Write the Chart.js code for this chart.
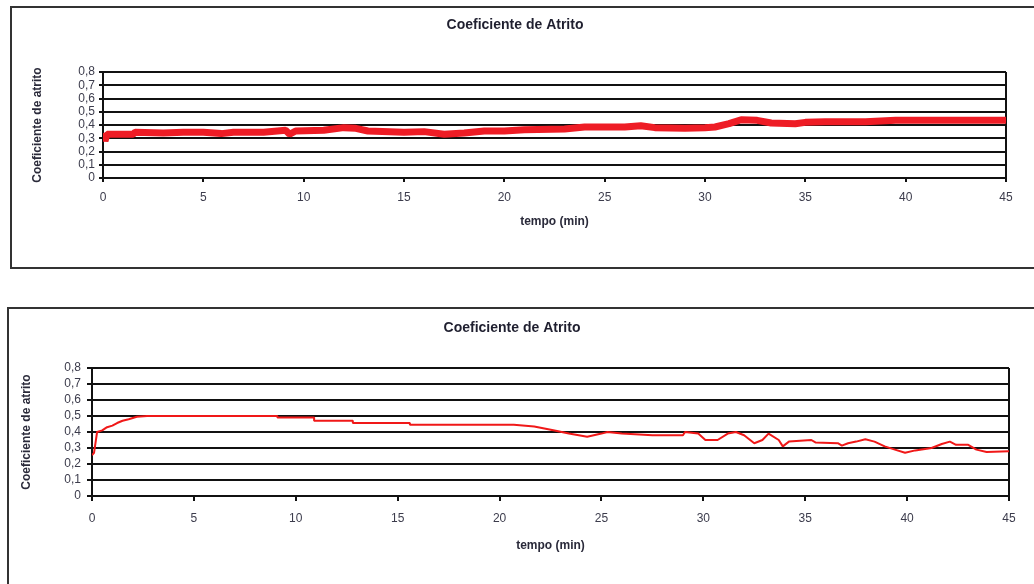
<!DOCTYPE html>
<html>
<head>
<meta charset="utf-8">
<script src="https://cdn.jsdelivr.net/npm/chart.js@4"></script>
<style>
  html, body { margin: 0; padding: 0; background: #fff; overflow: hidden; }
  body { width: 1034px; height: 584px; position: relative; }
  .box { position: absolute; border: 2px solid #333; box-sizing: border-box; }
  canvas { position: absolute; }
</style>
</head>
<body>
<div class="box" style="left:10px; top:6px; width:1040px; height:263px;"></div>
<div class="box" style="left:7px; top:307px; width:1040px; height:300px;"></div>
<canvas id="c1" width="1034" height="262" style="left:10px; top:6px;"></canvas>
<canvas id="c2" width="1034" height="277" style="left:7px; top:307px;"></canvas>
<script>
// ---- data ----
const chartTitle = 'Coeficiente de Atrito';
const xAxisTitle = 'tempo (min)';
const yAxisTitle = 'Coeficiente de atrito';
const xTickLabels = ['0', '5', '10', '15', '20', '25', '30', '35', '40', '45'];
const yTickLabels = ['0', '0,1', '0,2', '0,3', '0,4', '0,5', '0,6', '0,7', '0,8'];

const time1 = [0, 0.1, 0.2, 1.5, 1.6, 3, 4, 5, 5.9, 6.5, 8, 9.1, 9.3, 9.6, 11, 12, 12.6, 13.2, 15, 16, 17, 18, 19, 20, 21, 23, 24, 26, 26.8, 27.5, 29, 30, 30.5, 31.2, 31.8, 32.6, 33.3, 34.5, 35, 36, 38, 39.5, 45];
const cof1  = [0.34, 0.28, 0.33, 0.33, 0.345, 0.34, 0.345, 0.345, 0.335, 0.345, 0.345, 0.36, 0.33, 0.355, 0.36, 0.38, 0.375, 0.355, 0.345, 0.35, 0.33, 0.34, 0.355, 0.355, 0.365, 0.37, 0.385, 0.385, 0.395, 0.38, 0.375, 0.38, 0.385, 0.41, 0.44, 0.435, 0.415, 0.41, 0.42, 0.425, 0.425, 0.435, 0.435];

const time2 = [0, 0.1, 0.25, 0.5, 0.74, 1.0, 1.23, 1.5, 1.8, 2.2, 2.7, 9.1, 9.1, 10.9, 10.9, 12.8, 12.8, 15.6, 15.6, 20.7, 21.7, 22.7, 23.4, 24.3, 25.0, 25.3, 26.0, 27.5, 29.0, 29.1, 29.75, 30.1, 30.7, 31.2, 31.6, 32.0, 32.5, 32.9, 33.2, 33.7, 33.9, 34.2, 35.3, 35.5, 36.6, 36.8, 37.1, 37.5, 37.95, 38.4, 38.9, 39.4, 39.9, 40.4, 41.2, 41.7, 42.1, 42.4, 43.0, 43.4, 43.9, 45];
const cof2  = [0.255, 0.27, 0.40, 0.41, 0.43, 0.44, 0.456, 0.47, 0.48, 0.495, 0.5, 0.5, 0.49, 0.49, 0.47, 0.47, 0.456, 0.456, 0.445, 0.445, 0.435, 0.41, 0.39, 0.37, 0.39, 0.40, 0.39, 0.38, 0.38, 0.40, 0.39, 0.35, 0.35, 0.39, 0.40, 0.38, 0.33, 0.35, 0.39, 0.35, 0.31, 0.34, 0.35, 0.335, 0.33, 0.315, 0.33, 0.34, 0.355, 0.34, 0.31, 0.29, 0.27, 0.285, 0.30, 0.325, 0.34, 0.32, 0.32, 0.29, 0.275, 0.28];

// ---- chart builder ----
const FONT = "'Liberation Sans', Arial, sans-serif";
function build(id, times, vals, cfg) {
  const pts = times.map((t, i) => ({ x: t, y: vals[i] }));
  return new Chart(document.getElementById(id), {
    type: 'line',
    data: { datasets: [{ data: pts, borderColor: cfg.lineColor, borderWidth: cfg.lineWidth, pointRadius: 0, tension: 0, fill: false, borderJoinStyle: 'bevel' }] },
    options: {
      responsive: false, animation: false, devicePixelRatio: 1,
      layout: { padding: cfg.layoutPad },
      plugins: {
        legend: { display: false }, tooltip: { enabled: false },
        title: { display: true, text: chartTitle, color: '#1f1f2f',
                 font: { family: FONT, size: 14, weight: 'bold' }, padding: cfg.titlePad }
      },
      scales: {
        x: {
          type: 'linear', min: 0, max: 45,
          ticks: { stepSize: 5, color: '#3c3c4c', padding: cfg.xTickPad, maxRotation: 0, autoSkip: false,
                   font: { family: FONT, size: 12 },
                   callback: (v) => xTickLabels[Math.round(v / 5)] },
          grid: { color: (c) => (c.tick && c.tick.value === 45 ? '#111' : 'rgba(0,0,0,0)'),
                  tickColor: '#111', lineWidth: 2, tickLength: cfg.xTickLen, drawTicks: true },
          border: { display: false },
          title: { display: true, text: xAxisTitle, color: '#2a2a3a',
                   font: { family: FONT, size: 12, weight: 'bold' }, padding: { top: 0, bottom: cfg.xTitlePadB } },
          afterFit: (s) => { s.height = cfg.xHeight; s.paddingLeft = 0; s.paddingRight = 0; }
        },
        y: {
          min: 0, max: 0.8,
          ticks: { stepSize: 0.1, color: '#3c3c4c', padding: cfg.yTickPad, autoSkip: false,
                   font: { family: FONT, size: cfg.yTickSize },
                   callback: (v) => yTickLabels[Math.round(v * 10)] },
          grid: { color: '#111', lineWidth: 2, tickLength: cfg.yTickLen },
          border: { display: true, color: '#111', width: 2 },
          title: { display: true, text: yAxisTitle, color: '#2a2a3a',
                   font: { family: FONT, size: 12, weight: 'bold' }, padding: { top: cfg.yTitlePadT, bottom: 0 } },
          afterFit: (s) => { s.width = cfg.yWidth; s.paddingTop = 0; s.paddingBottom = 0; }
        }
      }
    }
  });
}

build('c1', time1, cof1, {
  lineColor: '#ee1c25', lineWidth: 7,
  layoutPad: { left: 14, right: 38, top: 0, bottom: 38 },
  titlePad: { top: 10.6, bottom: 38.6 },
  xTickPad: 8.8, xTickLen: 4, xHeight: 52, xTitlePadB: 0.8,
  yTickPad: 4, yTickLen: 4, yTickSize: 12, yWidth: 79, yTitlePadT: 6.8
});

build('c2', time2, cof2, {
  lineColor: '#f01818', lineWidth: 2,
  layoutPad: { left: 8, right: 32, top: 0, bottom: 31 },
  titlePad: { top: 12.6, bottom: 31.6 },
  xTickPad: 10.8, xTickLen: 5, xHeight: 57, xTitlePadB: 0,
  yTickPad: 6, yTickLen: 5, yTickSize: 12, yWidth: 77, yTitlePadT: 4.8
});
</script>
</body>
</html>
